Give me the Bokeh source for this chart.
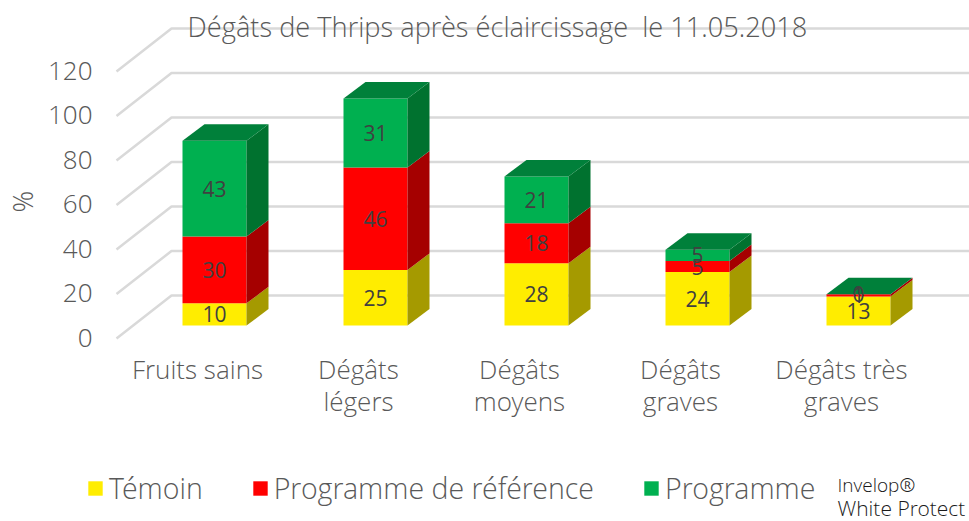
from bokeh.plotting import figure
from bokeh.models import Range1d, LinearAxis, FixedTicker, Legend, LegendItem, Label
from bokeh.embed import file_html
from bokeh.resources import INLINE

categories = ["Fruits sains", "Dégâts\nlégers", "Dégâts\nmoyens", "Dégâts\ngraves", "Dégâts très\ngraves"]
temoin = [10, 25, 28, 24, 13]
reference = [30, 46, 18, 5, 1]
programme = [43, 31, 21, 5, 0]
series_names = ["Témoin", "Programme de référence", "Programme"]
y_ticks = [0, 20, 40, 60, 80, 100, 120]
title_text = "Dégâts de Thrips après éclaircissage\u00a0 le 11.05.2018"
note_lines = ["Invelop®", "White Protect"]

FONT = "Open Sans Light, Open Sans"
GREY = "#595959"
WIDTH, HEIGHT = 969, 521
X0, XU, Y0, YU = 214.0, 161.0, 325.0, 2.225  # page pixel of origin and pixels per unit
def X(px): return (px - X0) / XU
def Y(py): return (Y0 - py) / YU

p = figure(width=WIDTH, height=HEIGHT, output_backend="svg", toolbar_location=None,
           x_range=Range1d(X(0), X(WIDTH)), y_range=Range1d(Y(HEIGHT), Y(0)),
           x_axis_location=None, y_axis_location=None,
           min_border=0, outline_line_color=None,
           background_fill_color="white", border_fill_color="white")
p.xgrid.visible = False
p.ygrid.visible = False

# Axes with label-offset ranges, fixed inside the frame
YSHIFT, XSHIFT = 5.4, 17 / XU
p.extra_y_ranges["labels"] = Range1d(Y(HEIGHT) + YSHIFT, Y(0) + YSHIFT)
p.extra_x_ranges["labels"] = Range1d(X(0) + XSHIFT, X(WIDTH) + XSHIFT)
yax = LinearAxis(y_range_name="labels", ticker=FixedTicker(ticks=y_ticks), fixed_location=X(98))
xax = LinearAxis(x_range_name="labels", ticker=FixedTicker(ticks=list(range(len(categories)))),
                 major_label_overrides={i: c for i, c in enumerate(categories)},
                 fixed_location=Y(336))
for ax, size in ((yax, "26px"), (xax, "26px")):
    ax.axis_line_color = None
    ax.major_tick_line_color = None
    ax.minor_tick_line_color = None
    ax.major_label_text_font = FONT
    ax.major_label_text_font_size = size
    ax.major_label_text_color = GREY
yax.major_label_standoff = 0
xax.major_label_standoff = 8
xax.major_label_text_line_height = 0.9
p.add_layout(yax, "left")
p.add_layout(xax, "below")

# Perspective grid
DX, DY = 22 / XU, 16.5 / YU
GX_BACK, GX_FRONT = X(171), X(116)
GY_BACK, GY_FRONT = Y(295), Y(338)
for t in y_ticks:
    p.line([GX_FRONT, GX_BACK, X(WIDTH)], [GY_FRONT + t, GY_BACK + t, GY_BACK + t],
           line_color="#D9D9D9", line_width=2.5)

# Stacked 3-D bars
W = 32 / XU
fronts = ["#FFED00", "#FF0000", "#00B050"]
sides = ["#A59A00", "#A50000", "#00722F"]
TOP = "#00803A"
xs = list(range(len(categories)))
bottom = [0.0] * len(xs)
items = []
tx, ty, tt = [], [], []
for name, vals, fc, sc in zip(series_names, (temoin, reference, programme), fronts, sides):
    top = [b + v for b, v in zip(bottom, vals)]
    r = p.quad(left=[x - W for x in xs], right=[x + W for x in xs], bottom=bottom, top=top,
               fill_color=fc, line_color=None)
    p.patches([[x + W, x + W + DX, x + W + DX, x + W] for x in xs],
              [[b, b + DY, t + DY, t] for b, t in zip(bottom, top)],
              fill_color=sc, line_color=None)
    items.append(LegendItem(label=name, renderers=[r]))
    tx += xs
    ty += [(b + t) / 2 for b, t in zip(bottom, top)]
    tt += [str(v) for v in vals]
    bottom = top
p.patches([[x - W, x + W, x + W + DX, x - W + DX] for x in xs],
          [[t, t, t + DY, t + DY] for t in bottom],
          fill_color=TOP, line_color=None)
p.text(tx, ty, text=tt, text_align="center", text_baseline="middle",
       text_font={"value": "Open Sans"}, text_font_size="21px", text_color="#404040")

# Legend
legend = Legend(items=items, orientation="horizontal", location=(86, 14),
                glyph_width=18, glyph_height=18, label_standoff=5, spacing=48,
                padding=0, margin=0, border_line_color=None, background_fill_alpha=0,
                label_text_font=FONT, label_text_font_size="28.5px", label_text_color=GREY)
p.add_layout(legend, "center")

# Title, unit, note
p.add_layout(Label(x=X(497), y=Y(26), text=title_text, text_align="center", text_baseline="middle",
                   text_font=FONT, text_font_size="27.2px", text_color=GREY))
p.add_layout(Label(x=X(22), y=Y(201), text="%", angle=90, angle_units="deg", text_align="center",
                   text_baseline="middle", text_font=FONT, text_font_size="27px", text_color=GREY))
for line, py, size in zip(note_lines, (484, 507), ("19px", "21px")):
    p.add_layout(Label(x=X(837), y=Y(py), text=line, text_align="left", text_baseline="middle",
                       text_font=FONT, text_font_size=size, text_color="#1a1a1a"))

open("out.html", "w").write(file_html(p, INLINE))
